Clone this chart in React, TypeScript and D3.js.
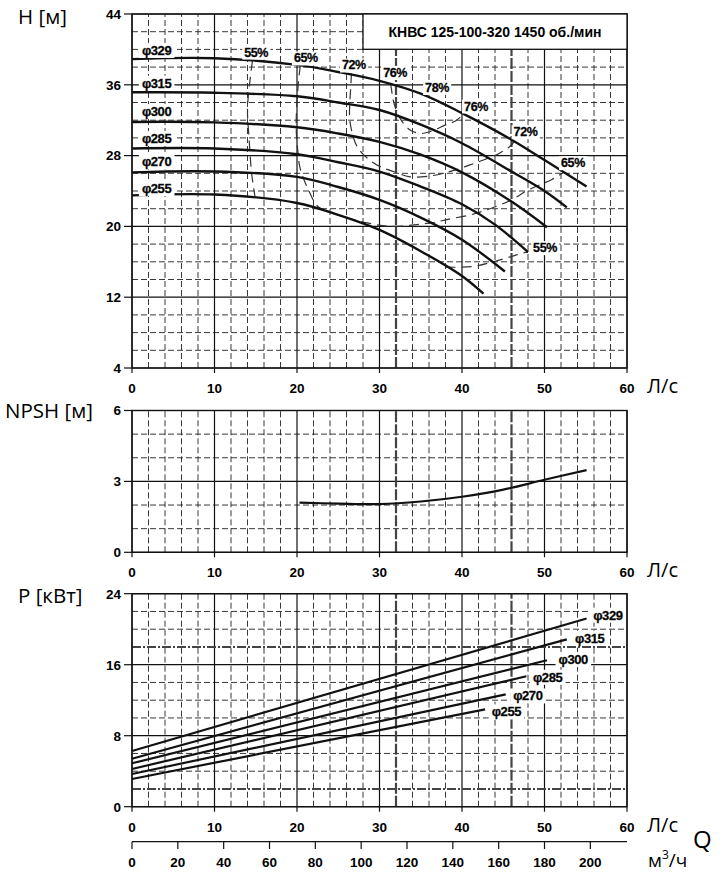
import { useEffect, useRef } from "react";
import * as d3 from "d3";

type Pt = [number, number];

// axes
const flowTicks = [0, 10, 20, 30, 40, 50, 60];
const headTicks = [4, 12, 20, 28, 36, 44];
const npshTicks = [0, 3, 6];
const powerTicks = [0, 8, 16, 24];
const cubicTicks = [0, 20, 40, 60, 80, 100, 120, 140, 160, 180, 200];
const dutyFlows = [32, 46];
const powerMarks = [2, 18];

const diameters = ["φ329", "φ315", "φ300", "φ285", "φ270", "φ255"];

// H(Q), Q in л/с, H in м
const head329: Pt[] = [[0, 38.9], [10, 39.0], [20, 38.25], [25, 37.45], [30, 36.45], [35, 35.0], [40, 32.8], [46, 29.8], [50, 27.5], [55.1, 24.5]];
const head315: Pt[] = [[0, 35.15], [10, 35.1], [20, 34.7], [25, 34.0], [30, 33.15], [35, 31.5], [40, 29.4], [46, 26.2], [50, 24.0], [52.7, 22.15]];
const head300: Pt[] = [[0, 31.8], [10, 31.75], [20, 31.2], [25, 30.5], [30, 29.55], [35, 28.1], [40, 26.1], [46, 22.8], [50.3, 19.9]];
const head285: Pt[] = [[0, 28.8], [10, 28.8], [20, 28.15], [25, 27.25], [30, 26.2], [35, 24.5], [40, 22.5], [44, 20.2], [48, 17.1]];
const head270: Pt[] = [[0, 26.1], [10, 26.2], [20, 25.6], [25, 24.45], [30, 23.0], [35, 21.0], [40, 18.5], [45.2, 14.9]];
const head255: Pt[] = [[0, 23.5], [10, 23.6], [20, 22.65], [25, 21.3], [30, 19.6], [35, 17.2], [40, 14.4], [42.6, 12.4]];
const headCurves = [head329, head315, head300, head285, head270, head255];
const headLabelH = [39.9, 36.2, 33.0, 29.95, 27.3, 24.3];

// iso-efficiency lines
const eff55Left: Pt[] = [[14.6, 38.7], [14.3, 36.5], [14.0, 33.2], [14.2, 29.8], [14.5, 26.0], [14.9, 23.4]];
const eff65: Pt[] = [[20.4, 38.2], [20.1, 35.5], [19.9, 31.3], [20.1, 28.5], [20.4, 26.5], [21.6, 23.7], [22.6, 22.2], [26.0, 21.0], [28.5, 20.4], [31.3, 20.0], [34.5, 20.2], [36.9, 20.5], [38.3, 20.8], [41.0, 21.3], [43.4, 22.0], [46.0, 23.0], [48.0, 24.1], [50.9, 25.3], [52.3, 26.1]];
const eff72: Pt[] = [[26.6, 37.3], [26.5, 35.5], [26.4, 33.9], [26.4, 32.0], [27.0, 29.6], [27.6, 28.6], [28.8, 27.5], [30.1, 26.75], [31.7, 26.2], [33.7, 25.6], [36.5, 25.75], [38.9, 26.3], [40.8, 26.9], [42.6, 27.5], [44.6, 28.3], [46.0, 29.2], [46.4, 29.8]];
const eff76: Pt[] = [[31.3, 36.1], [31.4, 35.8], [31.7, 34.1], [32.5, 32.2], [33.7, 30.9], [35.0, 30.5], [36.1, 30.7], [38.1, 31.5], [39.2, 31.9], [40.3, 32.8]];
const eff55Right: Pt[] = [[38.0, 15.4], [41.2, 15.45], [43.8, 16.0], [46.0, 16.6], [47.4, 17.0], [48.0, 17.1]];
const effCurves = [eff55Left, eff65, eff72, eff76, eff55Right];

const effLabels = ["55%", "65%", "72%", "76%", "78%", "76%", "72%", "65%", "55%"];
const effLabelQ = [15.05, 21.07, 26.9, 31.9, 36.97, 41.7, 47.7, 53.45, 50.06];
const effLabelH = [39.7, 39.03, 38.24, 37.4, 35.7, 33.6, 30.7, 27.2, 17.6];

// NPSH(Q)
const npshCurve: Pt[] = [[20.3, 2.1], [25, 2.06], [30, 2.04], [35, 2.15], [40, 2.35], [45, 2.65], [50, 3.07], [55.1, 3.48]];

// P(Q), кВт
const power329: Pt[] = [[0, 6.28], [55.1, 21.2]];
const power315: Pt[] = [[0, 5.41], [52.7, 18.86]];
const power300: Pt[] = [[0, 4.89], [50.3, 16.5]];
const power285: Pt[] = [[0, 4.25], [47.8, 14.7]];
const power270: Pt[] = [[0, 3.68], [45.3, 12.66]];
const power255: Pt[] = [[0, 3.12], [42.8, 10.97]];
const powerCurves = [power329, power315, power300, power285, power270, power255];
const powerLabelQ = [55.9, 53.7, 51.7, 48.6, 46.2, 43.6];
const powerLabelP = [21.6, 19.0, 16.6, 14.6, 12.5, 10.7];

const tickFont = "'Liberation Sans', Arial, sans-serif";
const titleFont = "'Open Sans', 'Noto Sans', sans-serif";

export default function App() {
  const ref = useRef<SVGSVGElement | null>(null);

  useEffect(() => {
    const svg = d3.select(ref.current);
    svg.selectAll("*").remove();

    const x = d3.scaleLinear().domain([0, 60]).range([132, 627]);
    const xCubic = d3.scaleLinear().domain([0, 216]).range([132, 627]);
    const yH = d3.scaleLinear().domain([4, 44]).range([368, 14]);
    const yN = d3.scaleLinear().domain([0, 6]).range([552.3, 410.5]);
    const yP = d3.scaleLinear().domain([0, 24]).range([806.7, 593.7]);

    // white box behind a label so grid lines break around it
    function label(
      g: d3.Selection<SVGGElement, unknown, null, undefined>,
      text: string,
      px: number,
      py: number,
      anchor: string,
      size: number,
      pad: number
    ) {
      const lg = g.append("g");
      const rect = lg.append("rect").attr("fill", "white");
      const t = lg
        .append("text")
        .attr("x", px)
        .attr("y", py)
        .attr("dy", "0.36em")
        .attr("text-anchor", anchor)
        .attr("font-family", tickFont)
        .attr("font-weight", "bold")
        .attr("font-size", size)
        .attr("letter-spacing", -0.4)
        .attr("stroke", "#111")
        .attr("stroke-width", 0.3)
        .text(text);
      const bb = (t.node() as SVGTextElement).getBBox();
      rect
        .attr("x", bb.x - pad)
        .attr("y", bb.y)
        .attr("width", bb.width + pad * 2)
        .attr("height", bb.height);
    }

    function panel(
      y: d3.ScaleLinear<number, number>,
      minorStep: number,
      majors: number[],
      marks: number[]
    ) {
      const g = svg.append("g");
      const [y0, y1] = y.domain();
      const minorQ = d3.range(2, 60, 2).filter((q) => q % 10 !== 0 && !dutyFlows.includes(q));
      const minorY = d3
        .range(y0 + minorStep, y1, minorStep)
        .filter((v) => !majors.includes(v) && !marks.includes(v));

      g.selectAll(".vmin")
        .data(minorQ)
        .join("line")
        .attr("x1", (d) => x(d))
        .attr("x2", (d) => x(d))
        .attr("y1", y(y0))
        .attr("y2", y(y1))
        .attr("stroke", "#222")
        .attr("stroke-width", 0.9)
        .attr("stroke-dasharray", "6,3");

      g.selectAll(".hmin")
        .data(minorY)
        .join("line")
        .attr("x1", x(0))
        .attr("x2", x(60))
        .attr("y1", (d) => y(d))
        .attr("y2", (d) => y(d))
        .attr("stroke", "#222")
        .attr("stroke-width", 0.9)
        .attr("stroke-dasharray", "6,3");

      g.selectAll(".vmaj")
        .data(flowTicks)
        .join("line")
        .attr("x1", (d) => x(d))
        .attr("x2", (d) => x(d))
        .attr("y1", y(y0))
        .attr("y2", y(y1))
        .attr("stroke", "#111")
        .attr("stroke-width", 1.2);

      g.selectAll(".hmaj")
        .data(majors)
        .join("line")
        .attr("x1", x(0))
        .attr("x2", x(60))
        .attr("y1", (d) => y(d))
        .attr("y2", (d) => y(d))
        .attr("stroke", "#111")
        .attr("stroke-width", 1.2);

      g.selectAll(".duty")
        .data(dutyFlows)
        .join("line")
        .attr("x1", (d) => x(d))
        .attr("x2", (d) => x(d))
        .attr("y1", y(y0))
        .attr("y2", y(y1))
        .attr("stroke", "#444")
        .attr("stroke-width", 2.2)
        .attr("stroke-dasharray", "11,2");

      g.selectAll(".mark")
        .data(marks)
        .join("line")
        .attr("x1", x(0))
        .attr("x2", x(60))
        .attr("y1", (d) => y(d))
        .attr("y2", (d) => y(d))
        .attr("stroke", "#444")
        .attr("stroke-width", 2)
        .attr("stroke-dasharray", "9,2,2,2");

      g.append("rect")
        .attr("x", x(0))
        .attr("y", y(y1))
        .attr("width", x(60) - x(0))
        .attr("height", y(y0) - y(y1))
        .attr("fill", "none")
        .attr("stroke", "#111")
        .attr("stroke-width", 1.4);

      // ticks
      g.selectAll(".ytick")
        .data(majors)
        .join("line")
        .attr("x1", x(0) - 8)
        .attr("x2", x(0))
        .attr("y1", (d) => y(d))
        .attr("y2", (d) => y(d))
        .attr("stroke", "#111")
        .attr("stroke-width", 1.2);

      g.selectAll(".ylab")
        .data(majors)
        .join("text")
        .attr("x", x(0) - 11)
        .attr("y", (d) => y(d))
        .attr("dy", "0.36em")
        .attr("text-anchor", "end")
        .attr("font-family", tickFont)
        .attr("font-weight", "bold")
        .attr("font-size", 13.5)
        .text((d) => d);

      g.selectAll(".xtick")
        .data(flowTicks)
        .join("line")
        .attr("x1", (d) => x(d))
        .attr("x2", (d) => x(d))
        .attr("y1", y(y0))
        .attr("y2", y(y0) + 5)
        .attr("stroke", "#111")
        .attr("stroke-width", 1.2);

      g.selectAll(".xlab")
        .data(flowTicks)
        .join("text")
        .attr("x", (d) => x(d))
        .attr("y", y(y0) + 25)
        .attr("text-anchor", "middle")
        .attr("font-family", tickFont)
        .attr("font-weight", "bold")
        .attr("font-size", 13.5)
        .text((d) => d);

      g.append("text")
        .attr("x", 647)
        .attr("y", y(y0) + 25)
        .attr("font-family", titleFont)
        .attr("font-size", 20)
        .text("Л/с");

      return g;
    }

    const gH = panel(yH, 2, headTicks, []);
    const gN = panel(yN, 1, npshTicks, []);
    const gP = panel(yP, 2, powerTicks, powerMarks);

    // axis titles
    const titles: [string, number, number][] = [
      ["H [м]", 18, 24],
      ["NPSH [м]", 5, 418],
      ["P [кВт]", 18, 603],
    ];
    svg
      .selectAll(".ytitle")
      .data(titles)
      .join("text")
      .attr("x", (d) => d[1])
      .attr("y", (d) => d[2])
      .attr("font-family", titleFont)
      .attr("font-size", 20.5)
      .text((d) => d[0]);

    // header box
    gH.append("rect")
      .attr("x", 363)
      .attr("y", yH(44))
      .attr("width", x(60) - 363)
      .attr("height", 35.3)
      .attr("fill", "white")
      .attr("stroke", "#111")
      .attr("stroke-width", 1.3);
    gH.append("text")
      .attr("x", (363 + x(60)) / 2)
      .attr("y", 36.7)
      .attr("text-anchor", "middle")
      .attr("font-family", tickFont)
      .attr("font-weight", "bold")
      .attr("font-size", 14)
      .text("КНВС 125-100-320 1450 об./мин");

    // efficiency lines
    const effLine = d3
      .line<Pt>()
      .x((d) => x(d[0]))
      .y((d) => yH(d[1]))
      .curve(d3.curveCatmullRom.alpha(0.5));
    gH.selectAll(".eff")
      .data(effCurves)
      .join("path")
      .attr("d", (d) => effLine(d))
      .attr("fill", "none")
      .attr("stroke", "#333")
      .attr("stroke-width", 1.2)
      .attr("stroke-dasharray", "10,6");

    // H curves
    const headLine = d3
      .line<Pt>()
      .x((d) => x(d[0]))
      .y((d) => yH(d[1]))
      .curve(d3.curveCatmullRom.alpha(0.5));
    gH.selectAll(".head")
      .data(headCurves)
      .join("path")
      .attr("d", (d) => headLine(d))
      .attr("fill", "none")
      .attr("stroke", "#111")
      .attr("stroke-width", 2.4);

    diameters.forEach((dn, i) => label(gH, dn, x(1.2), yH(headLabelH[i]), "start", 13, 3));
    effLabels.forEach((t, i) => label(gH, t, x(effLabelQ[i]), yH(effLabelH[i]), "middle", 12.5, 2));

    // NPSH
    const npshLine = d3
      .line<Pt>()
      .x((d) => x(d[0]))
      .y((d) => yN(d[1]))
      .curve(d3.curveCatmullRom.alpha(0.5));
    gN.append("path")
      .attr("d", npshLine(npshCurve))
      .attr("fill", "none")
      .attr("stroke", "#111")
      .attr("stroke-width", 2.2);

    // power
    const powerLine = d3
      .line<Pt>()
      .x((d) => x(d[0]))
      .y((d) => yP(d[1]));
    gP.selectAll(".pw")
      .data(powerCurves)
      .join("path")
      .attr("d", (d) => powerLine(d))
      .attr("fill", "none")
      .attr("stroke", "#111")
      .attr("stroke-width", 2.2);
    diameters.forEach((dn, i) => label(gP, dn, x(powerLabelQ[i]), yP(powerLabelP[i]), "start", 13, 3));

    // m3/h axis
    const gC = svg.append("g");
    gC.append("line")
      .attr("x1", x(0))
      .attr("x2", x(60))
      .attr("y1", 841.7)
      .attr("y2", 841.7)
      .attr("stroke", "#111")
      .attr("stroke-width", 1.3);
    gC.selectAll(".ctick")
      .data(cubicTicks)
      .join("line")
      .attr("x1", (d) => xCubic(d))
      .attr("x2", (d) => xCubic(d))
      .attr("y1", 841.7)
      .attr("y2", 849)
      .attr("stroke", "#111")
      .attr("stroke-width", 1.2);
    gC.selectAll(".clab")
      .data(cubicTicks)
      .join("text")
      .attr("x", (d) => xCubic(d))
      .attr("y", 866.7)
      .attr("text-anchor", "middle")
      .attr("font-family", tickFont)
      .attr("font-weight", "bold")
      .attr("font-size", 13.5)
      .text((d) => d);

    const unit = gC
      .append("text")
      .attr("x", 648)
      .attr("y", 866.7)
      .attr("font-family", titleFont)
      .attr("font-size", 19);
    unit.append("tspan").text("м");
    unit.append("tspan").attr("font-size", 12).attr("dy", -8).text("3");
    unit.append("tspan").attr("dy", 8).text("/ч");

    gC.append("text")
      .attr("x", 693)
      .attr("y", 848)
      .attr("font-family", titleFont)
      .attr("font-size", 24)
      .text("Q");
  }, []);

  return (
    <svg
      ref={ref}
      width={726}
      height={889}
      style={{ position: "absolute", left: 0, top: 0, background: "white" }}
    ></svg>
  );
}
